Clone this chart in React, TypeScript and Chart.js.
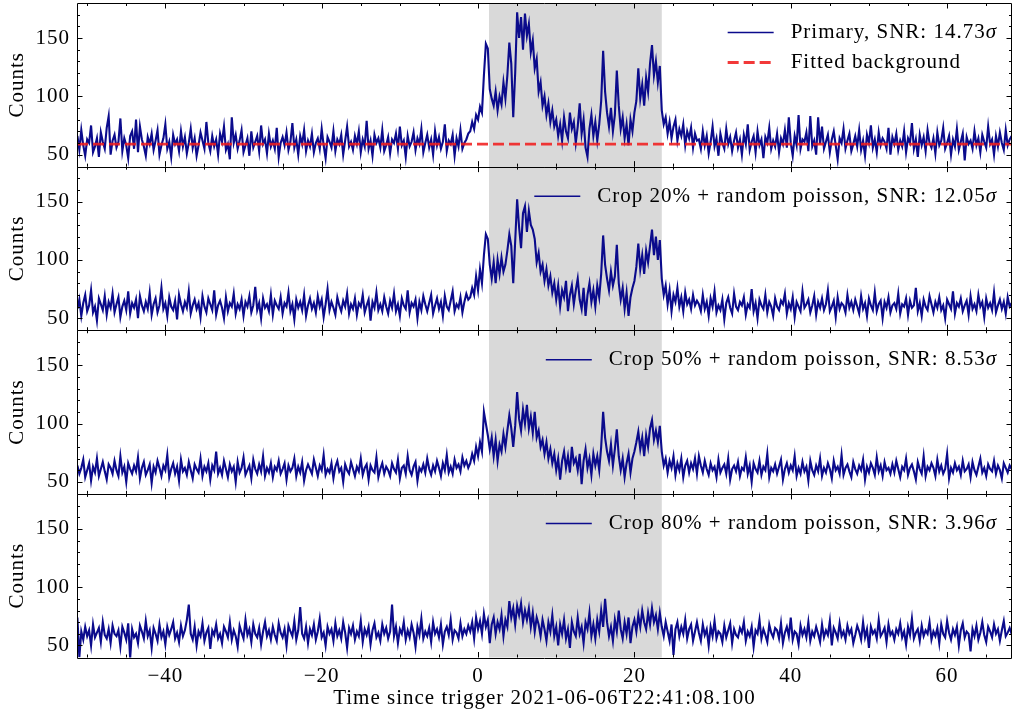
import React, { useEffect, useRef } from "react";
import { Chart, registerables } from "chart.js";

Chart.register(...registerables);

// ---------- style constants ----------
const FONT_FAMILY = '"Liberation Serif", "Times New Roman", serif';
const FONT_SIZE = 21;
const LINE_COLOR = "#0b0b8c";
const BG_LINE_COLOR = "rgba(240, 30, 30, 0.88)";
const SHADE_COLOR = "#d9d9d9";

// ---------- axes ----------
const X_LIMITS = [-51.3, 68.3];
const Y_LIMITS = [39.7, 180];
const X_MAJOR_TICKS = [-40, -20, 0, 20, 40, 60];
const Y_MAJOR_TICKS = [50, 100, 150];
const X_TITLE = "Time since trigger 2021-06-06T22:41:08.100";
const Y_TITLE = "Counts";

// ---------- time bins ----------
const BIN_WIDTH = 0.25;
const PRE_START = -51.25;
const BURST_START = -1.0;
const POST_START = 28.25;
const SHADE_INTERVAL = [1.4, 23.5];

// ---------- fitted background ----------
const BACKGROUND_TIMES = [-51.3, 68.3];
const BACKGROUND_VALUES = [59, 59];

// ---------- legend labels ----------
const PANEL_LABELS = [
  "Primary, SNR: 14.73",
  "Crop 20% + random poisson, SNR: 12.05",
  "Crop 50% + random poisson, SNR: 8.53",
  "Crop 80% + random poisson, SNR: 3.96",
];
const BACKGROUND_LABEL = "Fitted background";

// ---------- Primary ----------
const primaryPre = [
  66,54,71,58,49,63,60,75,52,57,64,48,69,61,55,73,83,50,62,67,
  56,61,81,53,64,58,47,66,70,55,80,52,74,63,57,49,65,59,68,54,
  62,71,50,58,64,76,55,61,48,67,59,63,53,70,57,65,51,60,72,56,
  64,49,58,69,62,55,78,60,53,66,57,63,50,68,61,74,54,59,46,82,
  60,67,55,62,71,52,58,64,49,70,56,61,66,53,75,59,63,51,68,57,
  62,55,73,48,60,65,58,69,54,61,77,56,63,50,66,59,71,53,62,57,
  68,52,60,64,55,72,58,47,65,61,56,70,53,63,59,67,50,62,74,57,
  61,54,66,59,70,52,63,57,79,55,62,49,67,60,64,56,71,53,58,65,
  51,63,60,68,55,74,58,62,48,66,57,61,69,54,64,59,72,52,60,67,
  56,63,50,70,58,65,55,61,76,53,62,59,67,49,64,57,71,55,60,63,
  68,
];
const primaryBurst = [
  70,78,72,84,80,91,86,118,145,141,
  106,98,92,104,88,100,93,112,98,118,
  146,128,82,120,172,150,168,140,171,152,
  162,138,148,124,132,104,112,92,100,84,
  94,78,88,74,80,66,76,62,82,70,
  64,86,72,78,60,74,94,68,80,56,
  48,72,84,66,78,62,76,96,139,104,
  86,74,90,70,84,122,92,72,82,64,
  76,58,80,70,86,96,124,98,110,92,
  116,104,128,144,118,130,112,126,88,76,
  82,68,78,64,74,80,62,72,66,76,
  58,70,64,73,56,68,62,
];
const primaryPost = [
  63,55,70,58,66,51,61,74,57,64,49,68,60,55,72,59,65,53,62,69,
  56,63,50,67,59,76,54,61,66,52,70,58,63,47,65,60,73,55,62,57,
  68,52,64,59,71,56,82,60,49,66,58,84,55,63,61,69,53,83,57,62,
  50,82,59,74,55,61,67,52,63,70,58,46,64,60,72,55,62,68,53,59,
  66,57,71,54,62,49,67,60,75,56,63,52,69,58,64,61,55,73,50,65,
  59,68,54,62,57,70,52,64,60,77,55,63,48,67,58,65,53,71,60,56,
  64,51,69,58,62,73,55,60,66,50,63,57,72,54,61,68,45,65,59,62,
  55,70,58,64,52,67,61,56,74,59,63,50,66,57,69,60,54,71,58,63,
  66,
];

// ---------- Crop 20% ----------
const crop20Pre = [
  58,66,52,63,70,56,61,74,55,60,48,67,62,57,69,53,64,59,71,55,
  62,68,51,60,65,57,73,54,63,59,66,50,69,61,56,64,58,72,53,62,
  67,55,61,76,58,63,52,68,60,57,65,49,70,62,56,64,59,73,54,61,
  66,58,63,51,69,60,55,67,62,57,74,53,61,65,59,50,68,56,63,60,
  71,54,62,58,66,52,64,60,69,55,61,77,57,63,50,67,59,62,56,70,
  53,65,61,58,68,54,63,60,72,56,62,49,66,59,64,57,70,52,61,67,
  58,63,55,69,60,66,51,62,75,57,64,59,53,68,61,56,65,60,71,54,
  62,58,67,53,63,60,70,55,61,66,48,64,59,72,57,62,56,68,60,54,
  65,59,71,56,62,52,67,61,58,74,55,63,60,66,50,64,57,69,62,56,
  63,70,54,61,67,58,64,52,69,60,57,65,73,56,62,59,68,55,64,71,
  66,
];
const crop20Burst = [
  68,76,70,86,74,92,80,104,122,118,
  96,84,98,80,100,88,102,90,96,108,
  122,112,80,116,152,128,110,140,146,124,
  142,130,126,118,98,106,90,96,82,92,
  78,86,72,80,66,78,60,74,68,82,
  56,70,78,62,74,84,66,58,76,52,
  70,80,64,74,60,78,68,88,121,96,
  84,74,90,78,86,113,80,66,76,58,
  72,52,68,76,82,94,114,92,104,88,
  108,98,112,126,104,120,100,117,84,70,
  78,62,74,56,70,64,76,60,68,56,
  72,62,66,58,70,61,65,
];
const crop20Post = [
  62,56,70,58,64,52,67,60,73,55,61,57,66,49,63,68,59,54,71,60,
  57,64,61,68,53,62,59,75,56,63,50,66,61,58,70,55,64,60,52,67,
  60,57,65,62,71,54,63,58,68,51,64,60,56,73,59,62,66,55,61,69,
  53,64,59,67,57,62,74,56,60,65,51,68,58,63,61,55,70,59,64,57,
  66,60,54,69,58,63,52,67,61,57,72,56,62,65,50,64,59,68,55,61,
  63,58,71,54,62,60,67,53,65,59,61,76,56,63,52,66,60,57,69,62,
  55,64,59,68,57,61,50,66,62,58,73,54,63,60,67,56,61,65,53,69,
  58,62,56,70,60,64,51,67,59,63,57,72,55,61,66,58,64,54,68,60,
  63,
];

// ---------- Crop 50% ----------
const crop50Pre = [
  64,57,62,69,54,60,66,51,63,58,70,55,61,67,59,52,65,62,57,68,
  60,55,72,58,63,50,66,61,57,64,59,71,53,62,67,56,60,65,49,63,
  58,68,62,55,64,60,73,54,61,66,57,63,51,69,59,62,56,67,60,53,
  65,61,58,70,55,63,59,66,52,64,60,76,57,62,56,68,61,54,65,59,
  63,50,67,58,62,71,56,60,64,53,69,61,57,65,59,72,55,62,58,66,
  54,63,60,68,57,61,66,52,64,59,62,70,55,63,58,67,51,60,65,61,
  57,69,62,55,64,60,73,56,61,58,66,53,63,68,59,62,50,65,60,57,
  67,61,55,63,59,70,56,62,65,52,64,60,58,71,54,61,66,57,63,60,
  55,66,61,58,69,53,62,64,57,72,60,56,63,67,51,62,59,65,58,70,
  61,56,64,59,68,62,55,66,60,73,58,63,57,69,62,65,59,71,64,68,
  62,
];
const crop50Burst = [
  66,74,68,80,72,84,76,110,100,90,
  78,88,72,86,68,82,76,91,80,94,
  107,96,80,98,127,104,94,112,100,116,
  96,106,92,110,88,94,80,86,74,84,
  70,78,66,74,60,70,52,68,76,62,
  72,58,80,66,70,60,74,48,68,78,
  62,70,56,74,64,72,60,80,110,88,
  76,68,82,64,78,95,72,60,70,54,
  66,74,58,70,76,84,93,78,88,72,
  90,80,96,103,86,94,84,98,76,64,
  70,58,68,62,72,56,66,60,70,54,
  64,68,58,66,61,70,57,
];
const crop50Post = [
  72,64,58,68,61,56,66,60,63,54,69,58,62,65,57,70,52,61,64,59,
  67,55,62,60,71,57,64,50,66,61,58,68,56,63,60,74,54,62,59,65,
  57,63,69,52,61,66,58,64,60,72,55,62,57,67,59,63,51,68,60,56,
  64,59,70,55,62,58,66,61,53,68,60,63,57,73,56,62,65,59,54,67,
  61,57,64,60,69,52,63,58,66,62,56,71,59,64,55,67,60,62,57,65,
  58,68,61,54,63,60,70,56,62,65,59,52,67,61,57,72,55,63,60,66,
  62,55,69,59,64,57,61,74,53,62,58,66,60,63,56,68,59,61,65,54,
  67,60,56,63,70,58,62,55,65,61,59,68,57,64,60,53,66,62,58,64,
  61,
];

// ---------- Crop 80% ----------
const crop80Pre = [
  74,40,62,55,66,58,63,50,68,57,61,65,53,70,59,56,64,52,67,60,
  58,63,49,66,61,55,69,39,64,57,60,52,67,62,56,71,58,63,48,65,
  60,54,68,57,62,51,66,59,64,70,56,61,53,67,58,63,72,85,60,55,
  66,50,62,58,69,54,61,65,47,63,59,68,56,60,52,66,62,57,70,55,
  63,58,49,67,61,56,72,59,64,53,68,60,57,65,51,62,70,58,63,55,
  66,59,54,69,61,57,64,50,67,62,58,71,55,63,83,60,56,66,52,64,
  59,68,55,62,73,57,61,50,66,60,64,54,69,58,63,56,70,61,48,65,
  60,67,55,62,58,71,53,64,59,66,51,63,69,57,61,54,68,60,65,56,
  62,85,58,66,52,64,60,70,55,63,57,68,61,49,66,59,73,56,62,58,
  65,53,70,60,64,57,68,51,62,66,59,72,55,63,61,56,69,58,64,60,
  67,
];
const crop80Burst = [
  62,70,56,74,64,71,60,77,66,72,
  52,68,74,60,70,64,76,58,72,66,
  88,74,82,68,84,76,86,70,80,72,
  82,66,78,62,74,68,58,72,64,54,
  70,62,76,58,66,50,68,60,72,56,
  64,48,70,62,58,74,60,66,52,70,
  64,78,58,68,56,72,62,80,66,90,
  70,58,66,54,72,62,80,64,56,70,
  60,74,52,66,72,62,76,66,80,70,
  64,78,68,82,70,76,64,78,66,58,
  70,62,54,68,42,64,70,58,66,60,
  72,56,64,68,54,62,70,
];
const crop80Post = [
  61,54,68,59,64,50,66,58,71,56,62,60,53,67,57,63,69,52,64,59,
  57,65,61,70,54,62,58,66,49,63,60,72,56,64,59,53,68,61,57,65,
  63,56,69,52,61,66,58,74,55,62,60,51,67,59,64,57,70,54,62,58,
  66,60,53,68,57,63,59,71,50,65,61,56,69,58,62,55,67,60,64,52,
  59,67,62,55,70,57,64,48,66,60,63,56,72,58,61,65,53,68,59,62,
  55,64,60,69,57,62,51,66,59,73,56,61,64,54,67,58,63,60,70,55,
  62,58,65,52,68,60,57,71,61,55,64,59,66,50,63,69,57,62,60,45,
  64,58,67,55,61,70,59,53,66,62,57,68,60,64,54,63,71,58,61,65,
  60,
];

const SERIES = [
  { axis: "y1", pre: primaryPre, burst: primaryBurst, post: primaryPost },
  { axis: "y2", pre: crop20Pre, burst: crop20Burst, post: crop20Post },
  { axis: "y3", pre: crop50Pre, burst: crop50Burst, post: crop50Post },
  { axis: "y4", pre: crop80Pre, burst: crop80Burst, post: crop80Post },
];

function toPoints(values: number[], start: number) {
  return values.map((v, i) => ({ x: Math.round((start + i * BIN_WIDTH) * 1000) / 1000, y: v }));
}

function fmt(v: number) {
  return v < 0 ? "\u2212" + Math.abs(v) : String(v);
}

const panelPlugin = {
  id: "panelDecor",
  beforeDraw(chart: any) {
    chart.ctx.letterSpacing = "1px";
  },
  beforeDatasetsDraw(chart: any) {
    const { ctx, chartArea, scales } = chart;
    const x = scales.x;
    const x0 = x.getPixelForValue(SHADE_INTERVAL[0]);
    const x1 = x.getPixelForValue(SHADE_INTERVAL[1]);
    ctx.save();
    ctx.fillStyle = SHADE_COLOR;
    ctx.fillRect(x0, chartArea.top, x1 - x0, chartArea.bottom - chartArea.top);
    ctx.restore();
  },
  afterDatasetsDraw(chart: any) {
    const { ctx, chartArea, scales } = chart;
    const xs = scales.x;
    const left = chartArea.left;
    const right = chartArea.right;
    ctx.save();
    ctx.letterSpacing = "1px";
    ctx.strokeStyle = "#000";
    ctx.lineWidth = 1;
    SERIES.forEach((s, p) => {
      const ys = scales[s.axis];
      const top = ys.top;
      const bottom = ys.bottom;
      // frame
      ctx.beginPath();
      ctx.rect(Math.round(left) + 0.5, Math.round(top) + 0.5, Math.round(right) - Math.round(left) - 1, Math.round(bottom) - Math.round(top));
      ctx.stroke();
      // x ticks
      ctx.beginPath();
      for (let v = -50; v <= 65; v += 5) {
        const px = Math.round(xs.getPixelForValue(v)) + 0.5;
        const len = v % 20 === 0 ? 5.5 : 3;
        ctx.moveTo(px, bottom);
        ctx.lineTo(px, bottom - len);
        ctx.moveTo(px, top);
        ctx.lineTo(px, top + len);
      }
      // y ticks
      for (let v = 40; v <= 180; v += 10) {
        const py = Math.round(ys.getPixelForValue(v)) + 0.5;
        if (py < top + 1 || py > bottom - 1) continue;
        const len = v % 50 === 0 ? 5.5 : 3;
        ctx.moveTo(left, py);
        ctx.lineTo(left + len, py);
        ctx.moveTo(right, py);
        ctx.lineTo(right - len, py);
      }
      ctx.stroke();

      // legend
      const entries: any[] = [{ text: PANEL_LABELS[p], sigma: true, color: LINE_COLOR, dashed: false }];
      if (p === 0) entries.push({ text: BACKGROUND_LABEL, sigma: false, color: BG_LINE_COLOR, dashed: true });
      const normal = `${FONT_SIZE}px ${FONT_FAMILY}`;
      const italic = `italic ${FONT_SIZE}px ${FONT_FAMILY}`;
      const widths = entries.map((e) => {
        ctx.font = normal;
        let w = ctx.measureText(e.text).width;
        if (e.sigma) {
          ctx.font = italic;
          w += ctx.measureText("\u03c3").width;
        }
        return w;
      });
      const maxW = Math.max(...widths);
      const textRight = right - 15;
      const textLeft = textRight - maxW;
      const lineEnd = textLeft - 17;
      const lineStart = lineEnd - 46;
      entries.forEach((e, i) => {
        const y = top + 29.5 + i * 30;
        ctx.save();
        ctx.beginPath();
        ctx.strokeStyle = e.color;
        if (e.dashed) {
          ctx.lineWidth = 2.8;
          ctx.setLineDash([11, 5]);
        } else {
          ctx.lineWidth = 1.5;
        }
        ctx.moveTo(lineStart, y);
        ctx.lineTo(lineEnd, y);
        ctx.stroke();
        ctx.restore();
        ctx.fillStyle = "#000";
        ctx.textBaseline = "middle";
        ctx.textAlign = "left";
        ctx.font = normal;
        ctx.fillText(e.text, textLeft, y);
        if (e.sigma) {
          const w = ctx.measureText(e.text).width;
          ctx.font = italic;
          ctx.fillText("\u03c3", textLeft + w, y);
        }
      });
    });
    ctx.restore();
  },
};

export default function App() {
  const canvasRef = useRef<HTMLCanvasElement>(null);

  useEffect(() => {
    const canvas = canvasRef.current;
    if (!canvas) return;
    const font = { family: FONT_FAMILY, size: FONT_SIZE, lineHeight: 1.2 };

    const datasets: any[] = [
      {
        label: BACKGROUND_LABEL,
        data: BACKGROUND_TIMES.map((x, i) => ({ x, y: BACKGROUND_VALUES[i] })),
        xAxisID: "x",
        yAxisID: "y1",
        borderColor: BG_LINE_COLOR,
        borderWidth: 2.8,
        borderDash: [11, 5],
        pointRadius: 0,
        fill: false,
        order: 0,
      },
    ];
    SERIES.forEach((s, p) => {
      datasets.push({
        label: PANEL_LABELS[p],
        data: [
          ...toPoints(s.pre, PRE_START),
          ...toPoints(s.burst, BURST_START),
          ...toPoints(s.post, POST_START),
        ],
        xAxisID: "x",
        yAxisID: s.axis,
        borderColor: LINE_COLOR,
        borderWidth: 2.1,
        pointRadius: 0,
        fill: false,
        tension: 0,
        order: 1,
      });
    });

    const yScale = () => ({
      type: "linear",
      position: "left",
      stack: "panels",
      stackWeight: 1,
      min: Y_LIMITS[0],
      max: Y_LIMITS[1],
      afterFit: (sc: any) => {
        sc.width = 77;
        sc.paddingTop = 0;
        sc.paddingBottom = 0;
      },
      afterBuildTicks: (sc: any) => {
        sc.ticks = Y_MAJOR_TICKS.map((value) => ({ value }));
      },
      grid: { display: false, drawTicks: false },
      border: { display: false },
      ticks: { color: "#000", font, padding: 7, autoSkip: false },
      title: { display: true, text: Y_TITLE, color: "#000", font, padding: { top: 5, bottom: 0 } },
    });

    const chart = new Chart(canvas, {
      type: "line",
      data: { datasets },
      options: {
        animation: false,
        responsive: false,
        maintainAspectRatio: false,
        devicePixelRatio: 1,
        layout: { padding: { top: 3, right: 1, left: 0, bottom: 0 } },
        plugins: { legend: { display: false }, tooltip: { enabled: false } },
        elements: { point: { radius: 0 }, line: { tension: 0 } },
        scales: {
          x: {
            type: "linear",
            position: "bottom",
            min: X_LIMITS[0],
            max: X_LIMITS[1],
            afterFit: (sc: any) => {
              sc.height = 57.5;
              sc.paddingLeft = 0;
              sc.paddingRight = 0;
            },
            afterBuildTicks: (sc: any) => {
              sc.ticks = X_MAJOR_TICKS.map((value) => ({ value }));
            },
            grid: { display: false, drawTicks: false },
            border: { display: false },
            ticks: { color: "#000", font, padding: 6, maxRotation: 0, autoSkip: false, callback: (v: any) => fmt(Number(v)) },
            title: { display: true, text: X_TITLE, color: "#000", font, padding: { top: 0, bottom: 4 } },
          },
          y4: yScale(),
          y3: yScale(),
          y2: yScale(),
          y1: yScale(),
        } as any,
      },
      plugins: [panelPlugin],
    } as any);

    return () => chart.destroy();
  }, []);

  return (
    <div style={{ position: "absolute", left: 0, top: 0, width: 1013, height: 715, background: "#fff" }}>
      <canvas ref={canvasRef} width={1013} height={715} style={{ display: "block" }} />
    </div>
  );
}
